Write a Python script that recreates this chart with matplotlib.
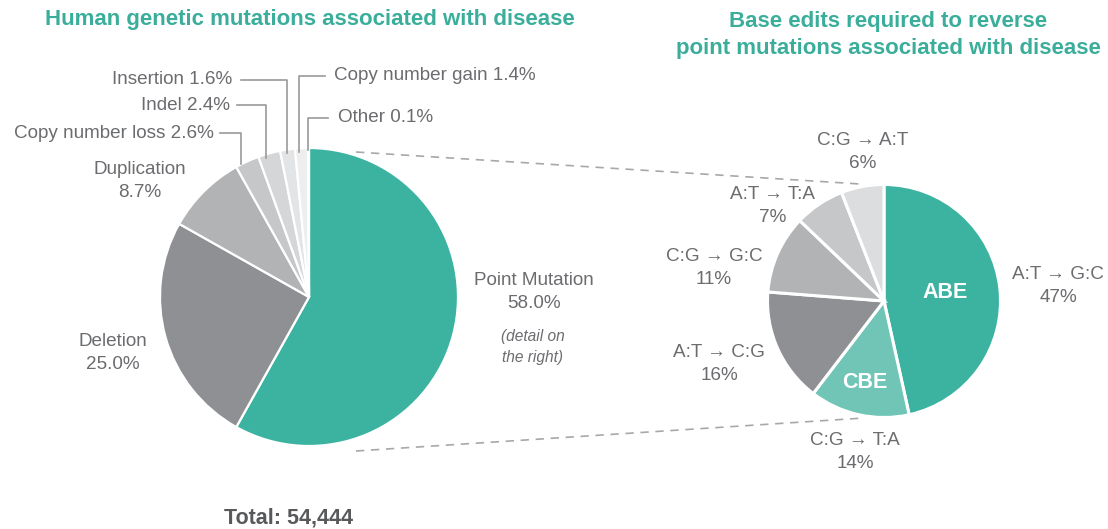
import matplotlib
matplotlib.use("Agg")
import matplotlib.pyplot as plt

plt.rcParams['font.family'] = ['Liberation Sans', 'Noto Sans CJK SC', 'DejaVu Sans']

# ---- data ----
left_labels = ["Point Mutation", "Deletion", "Duplication", "Copy number loss",
               "Indel", "Insertion", "Copy number gain", "Other"]
left_values = [58.0, 25.0, 8.7, 2.6, 2.4, 1.6, 1.4, 0.1]
left_colors = ["#3cb3a1", "#8f9094", "#b2b3b5", "#c6c7c9", "#d5d6d8",
               "#e3e4e5", "#eeeeef", "#f6f6f6"]

right_labels = ["A:T \u2192 G:C", "C:G \u2192 T:A", "A:T \u2192 C:G",
                "C:G \u2192 G:C", "A:T \u2192 T:A", "C:G \u2192 A:T"]
right_values = [47, 14, 16, 11, 7, 6]
right_colors = ["#3cb3a1", "#70c5b7", "#8f9094", "#b2b3b5", "#c6c7c9", "#dcdddf"]
right_inner = ["ABE", "CBE", "", "", "", ""]

total_text = "Total: 54,444"
title_left = "Human genetic mutations associated with disease"
title_right = "Base edits required to reverse\npoint mutations associated with disease"

W, H = 1108, 529
TEAL = "#3aae9a"
GRAY = "#6b6c6f"
LINE = "#9a9a9a"

fig = plt.figure(figsize=(W / 100, H / 100), dpi=100)
ax = fig.add_axes([0, 0, 1, 1])

def Y(y):
    return H - y

# left pie
lc = (309, Y(297))
lr = 149
ax.pie(left_values, center=lc, radius=lr, startangle=90, counterclock=False,
       colors=left_colors, wedgeprops=dict(edgecolor="white", linewidth=1.6))

# right pie
rc = (884, Y(301))
rr = 116.5
ax.pie(right_values, center=rc, radius=rr, startangle=90, counterclock=False,
       colors=right_colors, wedgeprops=dict(edgecolor="white", linewidth=2.2))

ax.set_xlim(0, W)
ax.set_ylim(0, H)
ax.set_aspect("equal")
ax.axis("off")

fs = 13.6
ls = 1.4

# titles
ax.text(310, Y(20), title_left, color=TEAL, fontsize=16, fontweight="bold",
        ha="center", va="center")
ax.text(888, Y(35), title_right, color=TEAL, fontsize=16, fontweight="bold",
        ha="center", va="center", linespacing=1.35)

# left labels
ax.text(534, Y(292), f"{left_labels[0]}\n{left_values[0]:.1f}%", color=GRAY, fontsize=fs,
        ha="center", va="center", linespacing=ls)
ax.text(533, Y(347), "(detail on\nthe right)", color=GRAY, fontsize=11.2, style="italic",
        ha="center", va="center", linespacing=1.45)
ax.text(113, Y(353), f"{left_labels[1]}\n{left_values[1]:.1f}%", color=GRAY, fontsize=fs,
        ha="center", va="center", linespacing=ls)
ax.text(140, Y(181), f"{left_labels[2]}\n{left_values[2]:.1f}%", color=GRAY, fontsize=fs,
        ha="center", va="center", linespacing=ls)

# callouts (text anchor, elbow path)
ax.text(214, Y(133), f"{left_labels[3]} {left_values[3]:.1f}%", color=GRAY, fontsize=fs,
        ha="right", va="center")
ax.plot([220, 241, 241], [Y(133), Y(133), Y(164)], color=LINE, lw=1.2)
ax.text(230, Y(105), f"{left_labels[4]} {left_values[4]:.1f}%", color=GRAY, fontsize=fs,
        ha="right", va="center")
ax.plot([237, 266, 266], [Y(105), Y(105), Y(158)], color=LINE, lw=1.2)
ax.text(232, Y(80), f"{left_labels[5]} {left_values[5]:.1f}%", color=GRAY, fontsize=fs,
        ha="right", va="center")
ax.plot([241, 287, 287], [Y(80), Y(80), Y(153)], color=LINE, lw=1.2)
ax.text(334, Y(76), f"{left_labels[6]} {left_values[6]:.1f}%", color=GRAY, fontsize=fs,
        ha="left", va="center")
ax.plot([325, 299, 299], [Y(76), Y(76), Y(152)], color=LINE, lw=1.2)
ax.text(338, Y(118), f"{left_labels[7]} {left_values[7]:.1f}%", color=GRAY, fontsize=fs,
        ha="left", va="center")
ax.plot([328, 308, 308], [Y(118), Y(118), Y(150)], color=LINE, lw=1.2)

# right labels
rpos = [(1058, 286), (855, 452), (719, 364), (714, 268), (773, 206), (863, 152)]
for lab, val, (x, y) in zip(right_labels, right_values, rpos):
    ax.text(x, Y(y), f"{lab}\n{val}%", color=GRAY, fontsize=fs, ha="center",
            va="center", linespacing=ls)
ax.text(945, Y(292), right_inner[0], color="white", fontsize=15.5, fontweight="bold",
        ha="center", va="center")
ax.text(865, Y(383), right_inner[1], color="white", fontsize=15.5, fontweight="bold",
        ha="center", va="center")

# dashed connectors
ax.plot([356, 860], [Y(152), Y(184)], color="#a8a8a8", lw=1.2, ls=(0, (5, 4)))
ax.plot([356, 864], [Y(451), Y(418)], color="#a8a8a8", lw=1.2, ls=(0, (5, 4)))

ax.text(288, Y(518), total_text, color="#58595b", fontsize=15.5, fontweight="bold",
        ha="center", va="center")

fig.savefig("out.png", dpi=100, facecolor="white")
